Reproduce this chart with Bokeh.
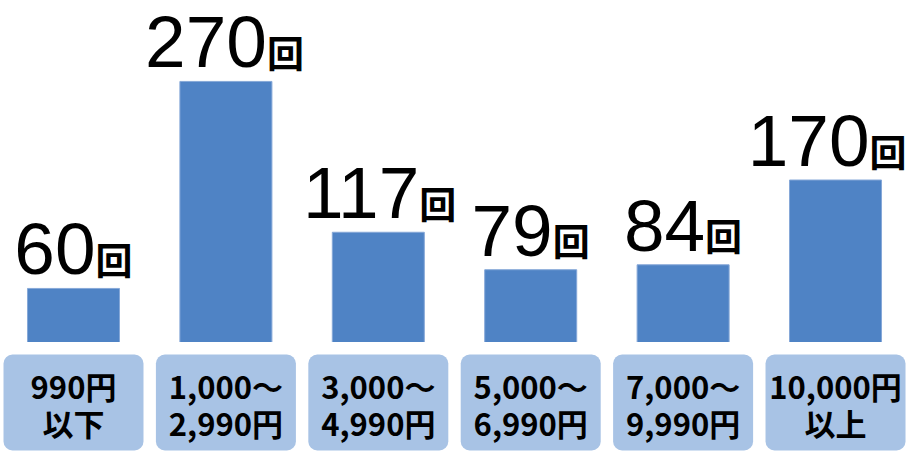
from bokeh.plotting import figure
from bokeh.layouts import column
from bokeh.models import Range1d, ColumnDataSource
from bokeh.core.properties import value
from bokeh.embed import file_html
from bokeh.resources import INLINE

# ---- data ----
categories = ["990円\n以下", "1,000～\n2,990円", "3,000～\n4,990円",
              "5,000～\n6,990円", "7,000～\n9,990円", "10,000円\n以上"]
counts = [60, 270, 117, 79, 84, 170]
unit = "回"

# ---- layout constants ----
W = 910
X0, X1 = -0.479, 5.492
UNIT_PX = 37

# ---- derived ----
xs = list(range(len(counts)))
num_labels = [str(v) for v in counts]
unit_labels = [unit] * len(counts)
# junction between number and unit, in screen px from bar centre,
# kept inside the canvas on the right
junction = []
for i, s in zip(xs, num_labels):
    cx = (i - X0) / (X1 - X0) * W
    junction.append(min(19 * len(s) - 16, W - 4 - UNIT_PX - cx))
line1 = [c.split("\n")[0] for c in categories]
line2 = [c.split("\n")[1] for c in categories]

src = ColumnDataSource(dict(x=xs, counts=counts, num=num_labels,
                            unit=unit_labels, jx=junction))
csrc = ColumnDataSource(dict(x=xs, l1=line1, l2=line2))

xr = Range1d(X0, X1)

top = figure(width=W, height=342, x_range=xr, y_range=Range1d(5.17, 352.1),
             output_backend="svg", toolbar_location=None, min_border=0,
             x_axis_location=None, y_axis_location=None)
top.grid.visible = False
top.outline_line_color = None
top.background_fill_color = "white"
top.border_fill_color = "white"

top.vbar(x="x", top="counts", bottom=0, width=0.6037, source=src,
         fill_color="#4f83c5", line_color="#86a8d8", line_width=1)

top.text(x="x", y="counts", text="num", source=src, x_offset="jx", y_offset=-39,
         text_align="right", text_baseline="middle",
         text_font=value("Liberation Sans"), text_font_size="73px",
         text_color="black")
top.text(x="x", y="counts", text="unit", source=src, x_offset="jx", y_offset=-29.5,
         text_align="left", text_baseline="middle",
         text_font=value("Noto Sans CJK JP"), text_font_style="bold",
         text_font_size="%dpx" % UNIT_PX, text_color="black")

bot = figure(width=W, height=109, x_range=xr, y_range=Range1d(451, 342),
             output_backend="svg", toolbar_location=None, min_border=0,
             x_axis_location=None, y_axis_location=None)
bot.grid.visible = False
bot.outline_line_color = None
bot.background_fill_color = "white"
bot.border_fill_color = "white"

bot.vbar(x="x", top=354, bottom=450, width=0.9186, source=csrc,
         fill_color="#a8c3e5", line_color=None, border_radius=9)
bot.text(x="x", y=384.5, text="l1", source=csrc, text_align="center",
         text_baseline="middle", text_font=value("Noto Sans CJK JP"),
         text_font_style="bold", text_font_size="31px", text_color="black")
bot.text(x="x", y=421.5, text="l2", source=csrc, text_align="center",
         text_baseline="middle", text_font=value("Noto Sans CJK JP"),
         text_font_style="bold", text_font_size="31px", text_color="black")

layout = column(top, bot, spacing=0)
open("out.html", "w").write(file_html(layout, INLINE))
